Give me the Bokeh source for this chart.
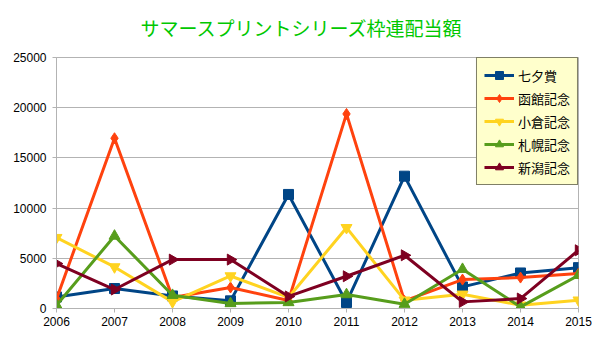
import numpy as np
from bokeh.plotting import figure
from bokeh.models import Range1d, FixedTicker, Legend, LegendItem, Title
from bokeh.embed import file_html
from bokeh.resources import INLINE

years = [2006, 2007, 2008, 2009, 2010, 2011, 2012, 2013, 2014, 2015]
tanabata = [1150, 1990, 1250, 760, 11360, 600, 13180, 2150, 3540, 4070]
hakodate = [950, 16960, 1100, 2090, 800, 19380, 760, 2880, 3080, 3480]
kokura = [7060, 4140, 660, 3240, 1100, 8050, 830, 1420, 330, 830]
sapporo = [330, 7220, 1320, 500, 600, 1390, 430, 3910, 160, 3310]
niigata = [4470, 1890, 4870, 4870, 1200, 3210, 5300, 660, 990, 5800]

names = ["七夕賞", "函館記念", "小倉記念", "札幌記念", "新潟記念"]
series = [tanabata, hakodate, kokura, sapporo, niigata]
colors = ["#004586", "#ff420e", "#ffd320", "#579d1c", "#7e0021"]
markers = ["square", "diamond", "inverted_triangle", "triangle", "triangle"]
angles = [0, 0, 0, 0, -np.pi / 2]
sizes = [10, 11, 11, 11, 11]

y_ticks = [0, 5000, 10000, 15000, 20000, 25000]

p = figure(width=605, height=340, output_backend="svg", toolbar_location=None,
           x_range=Range1d(2006, 2015), y_range=Range1d(0, 25000),
           min_border_left=56, min_border_right=27, min_border_top=57, min_border_bottom=32)
p.title = None
spacer = Title(text=" ", text_font_size="9px", standoff=0)
p.add_layout(spacer, "above")
t = Title(text="サマースプリントシリーズ枠連配当額", align="left", offset=84,
          text_font="Noto Sans CJK JP", text_font_size="19px", text_color="#00c800",
          text_font_style="normal")
p.add_layout(t, "above")

p.background_fill_color = "white"
p.border_fill_color = "white"
p.outline_line_color = "#b3b3b3"

p.xaxis.ticker = FixedTicker(ticks=years)
p.yaxis.ticker = FixedTicker(ticks=y_ticks)
for ax in (p.xaxis, p.yaxis):
    ax.axis_line_color = "#b3b3b3"
    ax.major_tick_line_color = "#b3b3b3"
    ax.major_tick_out = 4
    ax.major_tick_in = 0
    ax.minor_tick_line_color = None
    ax.major_label_text_font = "Liberation Sans"
    ax.major_label_text_font_size = "12px"
    ax.major_label_text_color = "black"
p.yaxis.major_label_standoff = 6
p.xaxis.major_label_standoff = 4
p.xgrid.grid_line_color = None
p.ygrid.grid_line_color = "#b3b3b3"

items = []
for name, ys, c, m, a, s in zip(names, series, colors, markers, angles, sizes):
    r1 = p.line(years, ys, line_color=c, line_width=3)
    r2 = p.scatter(years, ys, marker=m, size=s, angle=a, fill_color=c, line_color=c)
    items.append(LegendItem(label=name, renderers=[r1, r2]))

legend = Legend(items=items, location="top_right", margin=0, padding=7,
                spacing=3, glyph_width=30, glyph_height=20, label_height=20,
                label_standoff=4, label_text_font="Noto Sans CJK JP",
                label_text_font_size="13px", label_text_color="black",
                background_fill_color="#ffffcc", background_fill_alpha=1.0,
                border_line_color="black", border_line_width=1)
p.add_layout(legend, "center")

open("out.html", "w").write(file_html(p, INLINE))
